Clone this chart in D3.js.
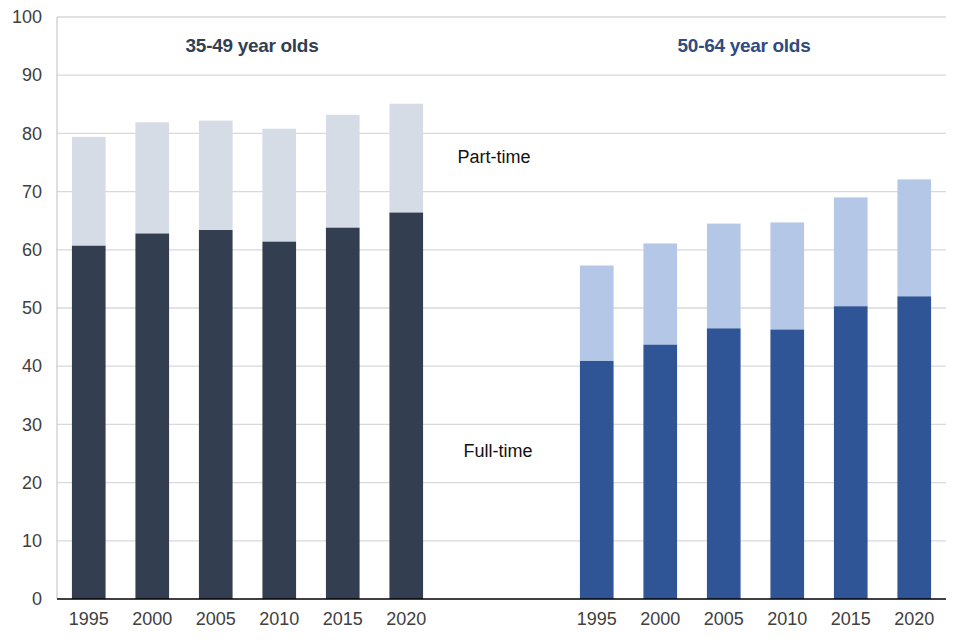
<!DOCTYPE html>
<html><head><meta charset="utf-8">
<script src="https://cdn.jsdelivr.net/npm/d3@7"></script>
<style>body{margin:0;background:#fff}svg{display:block;font-family:"Liberation Sans",Arial,sans-serif}</style>
</head><body><svg id="c" width="960" height="640"></svg>
<script>
const years = ["1995","2000","2005","2010","2015","2020"];
const groups = ["35-49 year olds","50-64 year olds"];
const fullTime3549 = [60.7, 62.8, 63.4, 61.4, 63.8, 66.4];
const total3549    = [79.4, 81.9, 82.2, 80.8, 83.2, 85.1];
const fullTime5064 = [40.9, 43.7, 46.5, 46.3, 50.3, 52.0];
const total5064    = [57.3, 61.1, 64.5, 64.7, 69.0, 72.1];
const yTicks = [0,10,20,30,40,50,60,70,80,90,100];

const colors = {ft:["#333f50","#2f5597"], pt:["#d6dce5","#b4c7e7"], title:["#333f50","#2f4b80"]};

const svg = d3.select("#c");
const m = {l:57, r:14, t:17, b:41};
const W = 960, H = 640;

const cats = [];
years.forEach(y=>cats.push("a"+y));
cats.push("gap1","gap2");
years.forEach(y=>cats.push("b"+y));

const x = d3.scaleBand().domain(cats).range([m.l, W-m.r]).paddingInner(0.47).paddingOuter(0.235);
const y = d3.scaleLinear().domain([0,100]).range([H-m.b, m.t]);

svg.append("g").selectAll("line").data(yTicks.filter(d=>d>0)).join("line")
  .attr("x1",m.l).attr("x2",W-m.r).attr("y1",d=>y(d)).attr("y2",d=>y(d))
  .attr("stroke","#d9d9d9").attr("stroke-width",1.3);

svg.append("line").attr("x1",m.l).attr("x2",m.l).attr("y1",y(100)).attr("y2",y(0))
  .attr("stroke","#bfbfbf").attr("stroke-width",1);

const data = [];
years.forEach((yr,i)=>{ data.push({cat:"a"+yr, g:0, ft:fullTime3549[i], tot:total3549[i]}); });
years.forEach((yr,i)=>{ data.push({cat:"b"+yr, g:1, ft:fullTime5064[i], tot:total5064[i]}); });

const bars = svg.append("g");
bars.selectAll("rect.pt").data(data).join("rect").attr("class","pt")
  .attr("x",d=>x(d.cat)).attr("width",x.bandwidth())
  .attr("y",d=>y(d.tot)).attr("height",d=>y(d.ft)-y(d.tot))
  .attr("fill",d=>colors.pt[d.g]);
bars.selectAll("rect.ft").data(data).join("rect").attr("class","ft")
  .attr("x",d=>x(d.cat)).attr("width",x.bandwidth())
  .attr("y",d=>y(d.ft)).attr("height",d=>y(0)-y(d.ft))
  .attr("fill",d=>colors.ft[d.g]);

svg.append("line").attr("x1",m.l).attr("x2",W-m.r).attr("y1",y(0)).attr("y2",y(0))
  .attr("stroke","#000").attr("stroke-width",1.3);

const yAxis = d3.axisLeft(y).tickValues(yTicks).tickSize(0).tickPadding(15);
const ya = svg.append("g").attr("transform",`translate(${m.l},0)`).call(yAxis);
ya.select(".domain").remove();
ya.selectAll("text").attr("font-size",18).attr("fill","#404040").attr("font-family","Liberation Sans, Arial, sans-serif");

const xAxis = d3.axisBottom(x).tickValues(cats.filter(c=>!c.startsWith("gap"))).tickFormat(c=>c.slice(1)).tickSize(0).tickPadding(13);
const xa = svg.append("g").attr("transform",`translate(0,${y(0)})`).call(xAxis);
xa.select(".domain").remove();
xa.selectAll("text").attr("font-size",18).attr("fill","#404040").attr("font-family","Liberation Sans, Arial, sans-serif");

svg.selectAll("text.title").data(groups).join("text").attr("class","title")
  .attr("x",(d,i)=>[252,744][i]).attr("y",52).attr("text-anchor","middle")
  .attr("font-size",19).attr("font-weight","bold").attr("letter-spacing",-0.3)
  .attr("fill",(d,i)=>colors.title[i]).text(d=>d);

svg.append("text").attr("x",494).attr("y",163).attr("text-anchor","middle")
  .attr("font-size",18).attr("fill","#111").text("Part-time");
svg.append("text").attr("x",498).attr("y",457).attr("text-anchor","middle")
  .attr("font-size",18).attr("fill","#111").text("Full-time");
</script></body></html>
